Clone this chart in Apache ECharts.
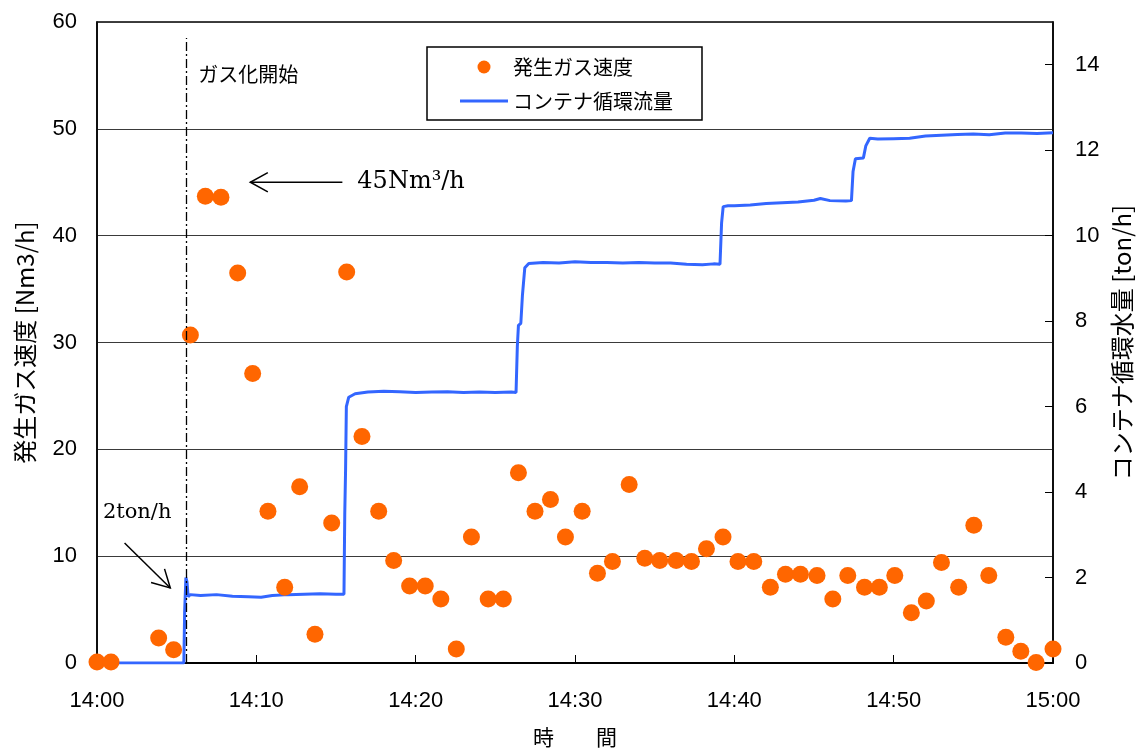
<!DOCTYPE html>
<html><head><meta charset="utf-8">
<script src="https://cdn.jsdelivr.net/npm/echarts@6/dist/echarts.min.js"></script>
<style>html,body{margin:0;padding:0;background:#fff}#c{width:1136px;height:751px}</style>
</head><body><div id="c"></div>
<script>
// ---- data (minutes after 14:00) ----
const gasTime = [0.0,0.88,3.87,4.81,5.86,6.80,7.78,8.83,9.77,10.73,11.78,12.72,13.68,14.73,15.67,16.63,17.68,18.62,19.62,20.6,21.58,22.55,23.5,24.55,25.5,26.45,27.49,28.46,29.4,30.45,31.41,32.35,33.4,34.38,35.32,36.35,37.31,38.25,39.29,40.23,41.22,42.26,43.21,44.15,45.19,46.18,47.12,48.17,49.1,50.07,51.11,52.05,53.0,54.08,55.03,55.97,57.04,57.98,58.94,60.0];
const gasRate = [0.1,0.1,2.35,1.25,30.7,43.7,43.6,36.5,27.1,14.2,7.1,16.5,2.7,13.1,36.6,21.2,14.2,9.6,7.2,7.2,6.0,1.3,11.8,6.0,6.0,17.8,14.2,15.3,11.8,14.2,8.4,9.5,16.7,9.8,9.6,9.6,9.5,10.7,11.8,9.5,9.5,7.1,8.3,8.3,8.2,6.0,8.2,7.1,7.1,8.2,4.7,5.8,9.4,7.1,12.9,8.2,2.4,1.1,0.05,1.3];
const flowTime = [0,5.45,5.5,5.58,5.65,5.72,5.85,6.5,7.5,8.5,9.5,10.3,11,12,13,14,15,15.5,15.55,15.6,15.65,15.8,16.2,17,18,19,20,21,22,23,24,25,26,26.3,26.38,26.45,26.6,26.7,26.85,27.1,28,29,30,31,32,33,34,35,36,37,38,38.7,39.1,39.2,39.3,39.6,40,41,42,43,44,45,45.4,46,47,47.35,47.45,47.6,48.1,48.25,48.5,49,50,51,52,53,54,55,56,57,58,59,60];
const flowRate = [0,0,1.2,2.0,1.9,1.55,1.6,1.58,1.6,1.56,1.55,1.54,1.58,1.6,1.61,1.62,1.61,1.61,3.5,4.5,6.0,6.22,6.3,6.34,6.36,6.35,6.33,6.34,6.35,6.33,6.34,6.33,6.34,6.33,7.4,7.9,7.95,8.6,9.25,9.35,9.37,9.36,9.39,9.37,9.37,9.36,9.37,9.36,9.36,9.33,9.32,9.34,9.33,10.3,10.68,10.7,10.7,10.72,10.75,10.77,10.79,10.83,10.87,10.82,10.81,10.82,11.5,11.8,11.82,12.1,12.28,12.26,12.27,12.28,12.33,12.35,12.37,12.38,12.36,12.40,12.40,12.39,12.41];
const xTickLabels = ['14:00','14:10','14:20','14:30','14:40','14:50','15:00'];
const rightTicks = [0,2,4,6,8,10,12,14];
const seriesNames = ['発生ガス速度','コンテナ循環流量'];
const axisNames = ['時　　間','発生ガス速度 [Nm3/h]','コンテナ循環水量 [ton/h]'];

const NUM = '"Liberation Sans", Arial, sans-serif';
const JP = '"Noto Sans CJK JP", sans-serif';
const SERIF = '"DejaVu Serif", serif';
const LINE_ICON = 'path://M0,0L48,0L48,0.01L0,0.01Z M0,5L48,5L48,8L0,8Z M0,12.99L48,12.99L48,13L0,13Z';

const chart = echarts.init(document.getElementById('c'), null, {renderer: 'canvas'});
const option = {
  animation: false,
  backgroundColor: '#fff',
  grid: {left: 97, right: 83, top: 22, bottom: 88, containLabel: false, outerBoundsMode: 'none',
         show: true, borderColor: '#000', borderWidth: 1.5, backgroundColor: 'transparent'},
  legend: {
    data: [{name: seriesNames[0], icon: 'circle'}, {name: seriesNames[1], icon: LINE_ICON}],
    orient: 'vertical', left: 427, top: 47,
    padding: [10, 29, 9, 33], itemWidth: 48, itemHeight: 13, itemGap: 14,
    borderColor: '#000', borderWidth: 1.5, backgroundColor: '#fff',
    textStyle: {fontFamily: JP, fontSize: 20, color: '#000'}
  },
  xAxis: {
    type: 'value', min: 0, max: 60, interval: 10,
    name: axisNames[0], nameLocation: 'middle', nameGap: 64,
    nameTextStyle: {fontFamily: JP, fontSize: 21, color: '#000'},
    axisLine: {lineStyle: {color: '#000', width: 2}},
    axisTick: {inside: true, length: 8, lineStyle: {color: '#000', width: 1}},
    axisLabel: {fontFamily: NUM, fontSize: 22, color: '#000', margin: 27,
      formatter: v => xTickLabels[Math.round(v / 10)]},
    splitLine: {show: false}
  },
  yAxis: [{
    type: 'value', min: 0, max: 60, interval: 10, position: 'left',
    name: axisNames[1], nameLocation: 'middle', nameGap: 60,
    nameTextStyle: {fontFamily: JP, fontSize: 24, color: '#000'},
    axisLine: {show: true, lineStyle: {color: '#000', width: 1.5}},
    axisTick: {show: false},
    axisLabel: {fontFamily: NUM, fontSize: 22, color: '#000', margin: 20},
    splitLine: {show: true, lineStyle: {color: '#3a3a3a', width: 1.2}}
  }, {
    type: 'value', min: 0, max: 15, position: 'right',
    name: axisNames[2], nameLocation: 'middle', nameGap: 57,
    nameTextStyle: {fontFamily: JP, fontSize: 24, color: '#000'},
    axisLine: {show: true, lineStyle: {color: '#000', width: 1.5}},
    axisTick: {show: true, inside: true, length: 8, customValues: rightTicks, lineStyle: {color: '#000'}},
    axisLabel: {fontFamily: NUM, fontSize: 22, color: '#000', margin: 22, customValues: rightTicks},
    splitLine: {show: false}
  }],
  series: [{
    name: seriesNames[0], type: 'scatter', z: 4,
    data: gasTime.map((t, i) => [t, gasRate[i]]),
    symbol: 'circle', symbolSize: 17,
    itemStyle: {color: '#ff6600', opacity: 1},
    markLine: {
      silent: true, symbol: ['none', 'none'], label: {show: false},
      lineStyle: {color: '#000', width: 1.3, type: [9, 3, 2, 3]},
      data: [[{coord: [5.61, 0]}, {coord: [5.61, 58.5]}]]
    }
  }, {
    name: seriesNames[1], type: 'line', yAxisIndex: 1, z: 3,
    data: flowTime.map((t, i) => [t, flowRate[i]]),
    showSymbol: false, symbol: 'none',
    lineStyle: {color: '#3366ff', width: 3},
    itemStyle: {color: '#3366ff'}
  }]
};
chart.setOption(option);

function px(t, v) { return chart.convertToPixel({gridIndex: 0}, [t, v]); }
function arrow(tail, tip) {
  const a = px(tail[0], tail[1]), b = px(tip[0], tip[1]);
  const ang = Math.atan2(a[1] - b[1], a[0] - b[0]);
  const L = 20, spread = 0.5;
  const p1 = [b[0] + L * Math.cos(ang + spread), b[1] + L * Math.sin(ang + spread)];
  const p2 = [b[0] + L * Math.cos(ang - spread), b[1] + L * Math.sin(ang - spread)];
  return [
    {type: 'line', shape: {x1: a[0], y1: a[1], x2: b[0], y2: b[1]}, style: {stroke: '#000', lineWidth: 1.5}, z: 10},
    {type: 'polyline', shape: {points: [p1, b, p2]}, style: {stroke: '#000', lineWidth: 1.5, fill: null}, z: 10}
  ];
}
const t1 = px(6.36, 55.1), t2 = px(16.34, 45), t3 = px(0.37, 14.04);
chart.setOption({graphic: [
  {type: 'text', x: t1[0], y: t1[1], style: {text: 'ガス化開始', font: '20px ' + JP, fill: '#000', textVerticalAlign: 'middle'}, z: 10},
  {type: 'text', x: t2[0], y: t2[1], style: {text: '45Nm³/h', font: '24px ' + SERIF, fill: '#000', textVerticalAlign: 'middle'}, z: 10},
  {type: 'text', x: t3[0], y: t3[1], style: {text: '2ton/h', font: '21px ' + SERIF, fill: '#000', textVerticalAlign: 'middle'}, z: 10},
  ...arrow([15.4, 45], [9.62, 45]),
  ...arrow([1.73, 11.24], [4.6, 7.02])
]});
</script></body></html>
